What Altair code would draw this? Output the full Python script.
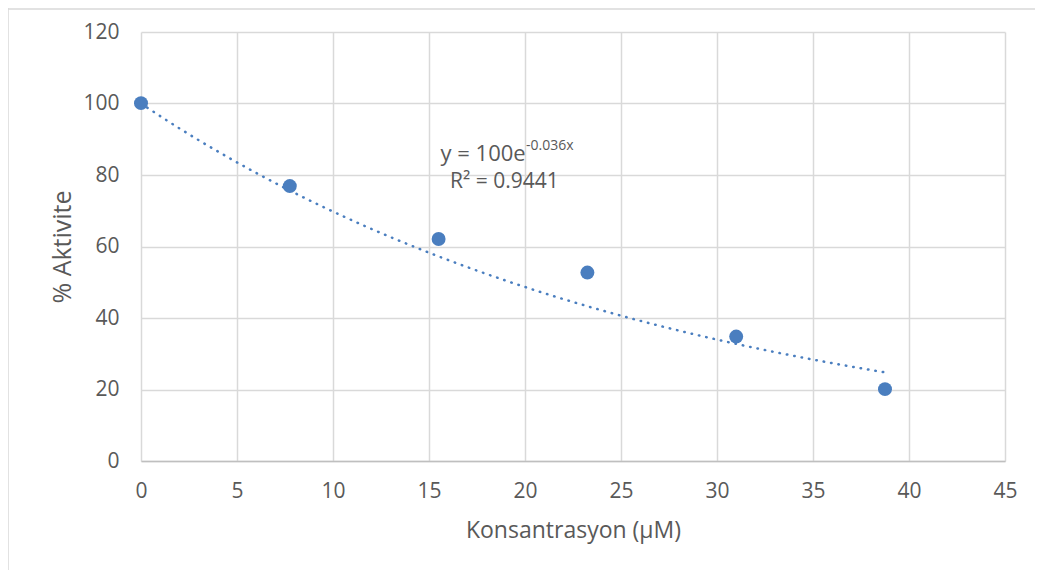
import altair as alt
import pandas as pd

# data
konsantrasyon = [0, 7.75, 15.5, 23.25, 31, 38.75]
aktivite = [100.1, 76.9, 62.1, 52.7, 34.8, 20.1]

# trendline parameters as printed on the chart (y = a * e^(b x))
trend_a = 100
trend_b = -0.036
trend_x_max = 38.75

x_ticks = [0, 5, 10, 15, 20, 25, 30, 35, 40, 45]
y_ticks = [0, 20, 40, 60, 80, 100, 120]

FONT = "Open Sans"
TXT = "#595959"
BLUE = "#4a7ebf"

df = pd.DataFrame({"x": konsantrasyon, "y": aktivite})

xs = alt.Scale(domain=[0, 45], nice=False, zero=False)
ys = alt.Scale(domain=[0, 120], nice=False)

x_axis = alt.Axis(values=x_ticks, title="Konsantrasyon (µM)", grid=True, ticks=False, labelFlush=False,
                  labelPadding=19, titlePadding=18, titleFontSize=23,
                  domainColor="#bfbfbf", domainWidth=1.5)
y_axis = alt.Axis(values=y_ticks, title="% Aktivite", grid=True, ticks=False, domain=False,
                  labelPadding=22, titlePadding=7, titleFontSize=25)

trend = alt.Chart(alt.sequence(0, trend_x_max + 0.01, 0.25, as_="x")).transform_calculate(
    y=f"{trend_a} * exp({trend_b} * datum.x)"
).mark_line(color=BLUE, strokeWidth=2.5, strokeDash=[0.5, 7], strokeCap="round").encode(
    x=alt.X("x:Q", scale=xs, axis=x_axis),
    y=alt.Y("y:Q", scale=ys, axis=y_axis),
)

points = alt.Chart(df).mark_circle(size=195, color=BLUE, opacity=1).encode(
    x=alt.X("x:Q", scale=xs),
    y=alt.Y("y:Q", scale=ys),
)

ann = pd.DataFrame({
    "x": [15.6, 20.05, 16.1],
    "y": [85.8, 88.0, 78.1],
    "t": ["y = 100e", "-0.036x", "R² = 0.9441"],
    "s": [22, 14, 21],
})
labels = alt.Chart(ann).mark_text(align="left", baseline="middle", font=FONT, color=TXT).encode(
    x=alt.X("x:Q", scale=xs),
    y=alt.Y("y:Q", scale=ys),
    text="t:N",
    size=alt.Size("s:Q", scale=None, legend=None),
)

border = alt.Chart(pd.DataFrame({"k": [0]})).mark_rule(color="#d9d9d9", strokeWidth=1.5).encode(
    x=alt.value(-133), y=alt.value(-24), y2=alt.value(560)
) + alt.Chart(pd.DataFrame({"k": [0]})).mark_rule(color="#d9d9d9", strokeWidth=1.5).encode(
    x=alt.value(-133), x2=alt.value(900), y=alt.value(-23)
)

chart = alt.layer(trend, points, labels, border).properties(
    width=864, height=429,
    autosize=alt.AutoSizeParams(type="none"),
    padding={"left": 133, "top": 24, "right": 30, "bottom": 109},
).configure_view(stroke=None).configure_axis(
    labelFont=FONT, titleFont=FONT, labelFontSize=21,
    labelColor=TXT, titleColor=TXT, titleFontWeight="normal",
    gridColor="#d9d9d9", gridWidth=1.5,
)

chart.save("out.html", embed_options={"renderer": "svg", "actions": False})
